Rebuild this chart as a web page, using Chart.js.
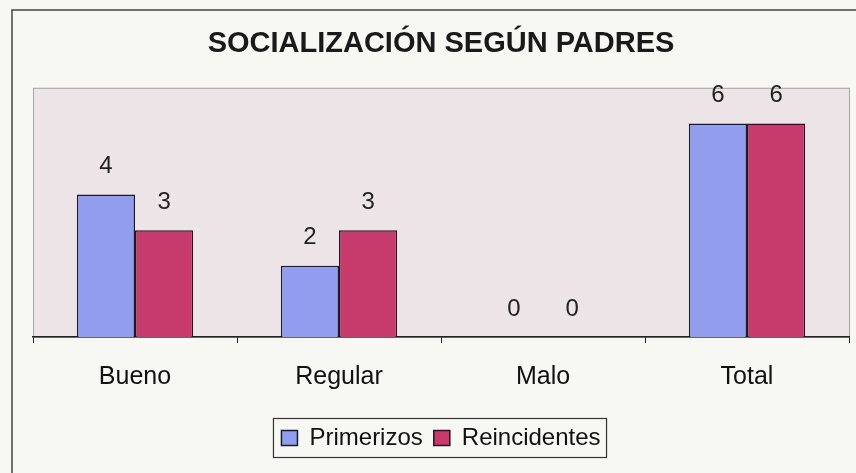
<!DOCTYPE html>
<html>
<head>
<meta charset="utf-8">
<script src="https://cdn.jsdelivr.net/npm/chart.js@4.4.1/dist/chart.umd.min.js"></script>
<style>
  html, body { margin: 0; padding: 0; background: #f7f7f4; }
  #wrap { position: relative; width: 856px; height: 473px; }
  canvas { display: block; }
</style>
</head>
<body>
<div id="wrap"><canvas id="chart" width="856" height="473"></canvas></div>
<script>
const categories = ['Bueno', 'Regular', 'Malo', 'Total'];
const primerizos = [4, 2, 0, 6];
const reincidentes = [3, 3, 0, 6];
const seriesNames = ['Primerizos', 'Reincidentes'];

const FONT = '"Liberation Sans", Arial, sans-serif';

// plot background, outer frame, value labels, legend box
const frame = {
    id: 'frame',
    beforeDraw(chart) {
        const ctx = chart.ctx;
        const a = chart.chartArea;
        ctx.save();
        ctx.strokeStyle = '#444';
        ctx.lineWidth = 1.5;
        ctx.beginPath();
        ctx.moveTo(12, 480);
        ctx.lineTo(12, 10);
        ctx.lineTo(860, 10);
        ctx.stroke();
        ctx.fillStyle = '#ece4e7';
        ctx.fillRect(a.left, a.top, a.right - a.left, a.bottom - a.top);
        ctx.strokeStyle = '#a8a4a6';
        ctx.lineWidth = 1;
        ctx.strokeRect(a.left + 0.5, a.top + 0.5, a.right - a.left, a.bottom - a.top);
        ctx.restore();
    },
    afterDraw(chart) {
        const ctx = chart.ctx;
        ctx.save();
        ctx.font = '24px ' + FONT;
        ctx.fillStyle = '#222';
        ctx.textAlign = 'center';
        ctx.textBaseline = 'middle';
        chart.data.datasets.forEach((ds, i) => {
            chart.getDatasetMeta(i).data.forEach((bar, j) => {
                ctx.fillText(String(ds.data[j]), bar.x, bar.y - 28);
            });
        });
        const lg = chart.legend;
        if (lg && lg.legendHitBoxes.length) {
            const boxes = lg.legendHitBoxes;
            const last = boxes[boxes.length - 1];
            const x0 = boxes[0].left - 8;
            const x1 = last.left + last.width + 6;
            const cy = boxes[0].top + boxes[0].height / 2;
            ctx.strokeStyle = '#333';
            ctx.lineWidth = 1.2;
            ctx.strokeRect(x0, cy - 19.5, x1 - x0, 39);
        }
        ctx.restore();
    }
};

new Chart(document.getElementById('chart').getContext('2d'), {
    type: 'bar',
    data: {
        labels: categories,
        datasets: [
            {
                label: seriesNames[0],
                data: primerizos,
                backgroundColor: '#929ded',
                borderColor: '#1a1a2e',
                borderWidth: 1.5,
                borderSkipped: 'bottom'
            },
            {
                label: seriesNames[1],
                data: reincidentes,
                backgroundColor: '#c73a6c',
                borderColor: '#2a1020',
                borderWidth: 1.5,
                borderSkipped: 'bottom'
            }
        ]
    },
    options: {
        responsive: false,
        animation: false,
        layout: { padding: { left: 33, right: 7, top: 0, bottom: 13 } },
        datasets: { bar: { categoryPercentage: 0.57, barPercentage: 1.0 } },
        scales: {
            x: {
                grid: { display: true, drawOnChartArea: false, tickLength: 6, color: '#222', offset: true },
                border: { display: true, color: '#222', width: 1.5 },
                ticks: {
                    color: '#111',
                    padding: 19,
                    font: { family: FONT, size: 25 }
                },
                afterFit(scale) { scale.height = 78; }
            },
            y: {
                display: false,
                min: 0,
                max: 7
            }
        },
        plugins: {
            title: {
                display: true,
                text: 'SOCIALIZACIÓN SEGÚN PADRES',
                color: '#1a1a1a',
                font: { family: FONT, size: 29, weight: 'bold' },
                padding: { top: 27, bottom: 26 }
            },
            legend: {
                position: 'bottom',
                labels: {
                    color: '#111',
                    boxWidth: 16,
                    boxHeight: 15,
                    padding: 11,
                    font: { family: FONT, size: 24 }
                }
            },
            tooltip: { enabled: false }
        }
    },
    plugins: [frame]
});
</script>
</body>
</html>
